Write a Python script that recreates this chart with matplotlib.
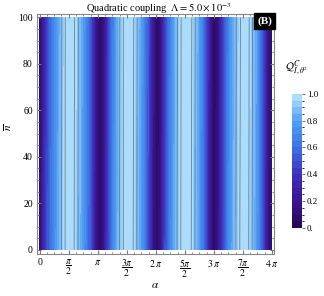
import numpy as np
import matplotlib
matplotlib.use("Agg")
import matplotlib.pyplot as plt
from matplotlib.colors import LinearSegmentedColormap

plt.rcParams['font.family'] = ['Liberation Serif', 'DejaVu Serif']
plt.rcParams['mathtext.fontset'] = 'stix'

# alpha sample positions, in units of pi
alpha_pi = [0.00, 0.07, 0.14, 0.21, 0.28, 0.35, 0.40, 0.45, 0.50, 0.57, 0.63, 0.70, 0.77, 0.84, 0.91, 0.97,
            1.04, 1.11, 1.18, 1.25, 1.32, 1.38, 1.44, 1.52, 1.60, 1.66, 1.73, 1.80, 1.87, 1.94,
            2.00, 2.07, 2.14, 2.21, 2.28, 2.34, 2.40, 2.46, 2.52, 2.60, 2.66, 2.73, 2.80, 2.87, 2.94,
            3.00, 3.07, 3.14, 3.21, 3.28, 3.35, 3.41, 3.47, 3.53, 3.60, 3.66, 3.73, 3.80, 3.87, 3.94, 4.00]
nbar_rows = [0, 100]

# Q values read along alpha at nbar = 0 and nbar = 100
q_bottom = [0.08, 0.30, 0.50, 0.64, 0.75, 0.86, 0.94, 0.98, 1.00, 0.99, 0.94, 0.84, 0.72, 0.58, 0.40, 0.15,
            0.06, 0.20, 0.45, 0.65, 0.80, 0.91, 0.97, 1.00, 0.98, 0.92, 0.80, 0.66, 0.48, 0.22,
            0.07, 0.12, 0.40, 0.60, 0.74, 0.86, 0.95, 0.99, 1.00, 0.98, 0.92, 0.80, 0.64, 0.45, 0.18,
            0.06, 0.15, 0.40, 0.60, 0.75, 0.86, 0.94, 0.99, 1.00, 0.97, 0.90, 0.78, 0.60, 0.38, 0.14, 0.06]
q_top = [0.08, 0.28, 0.48, 0.62, 0.74, 0.85, 0.93, 0.98, 1.00, 0.99, 0.95, 0.85, 0.74, 0.60, 0.42, 0.16,
         0.06, 0.17, 0.42, 0.62, 0.78, 0.90, 0.97, 1.00, 0.99, 0.93, 0.82, 0.68, 0.50, 0.24,
         0.07, 0.10, 0.36, 0.57, 0.72, 0.85, 0.94, 0.99, 1.00, 0.99, 0.93, 0.82, 0.66, 0.47, 0.19,
         0.06, 0.13, 0.37, 0.57, 0.73, 0.85, 0.93, 0.98, 1.00, 0.98, 0.91, 0.80, 0.62, 0.40, 0.15, 0.06]

xtick_pos = [0, 0.5, 1, 1.5, 2, 2.5, 3, 3.5, 4]
xtick_lab = ['0', r'$\dfrac{\pi}{2}$', r'$\pi$', r'$\dfrac{3\pi}{2}$', r'$2\,\pi$',
             r'$\dfrac{5\pi}{2}$', r'$3\,\pi$', r'$\dfrac{7\pi}{2}$', r'$4\,\pi$']

cmap = LinearSegmentedColormap.from_list('deepsea', [
    (0.0, '#25084f'), (0.2, '#3a1590'), (0.4, '#4030bd'), (0.6, '#3b72e2'),
    (0.8, '#52a0f3'), (0.92, '#8fcaf9'), (1.0, '#b6e3fd')])

fig = plt.figure(figsize=(3.24, 2.96), dpi=100)
ax = fig.add_axes([0.114, 0.142, 0.731, 0.811])

A = np.array(alpha_pi) * np.pi
Z = np.array([q_bottom, q_top])
levels = np.linspace(0, 1, 21)
cf = ax.contourf(A, nbar_rows, Z, levels=levels, cmap=cmap, vmin=0, vmax=1)
ax.contour(A, nbar_rows, Z, levels=[0.9, 0.97], colors='#4a5a6a', linewidths=0.6, alpha=0.7)

ax.set_xlim(-0.15, 4 * np.pi + 0.1)
ax.set_ylim(-1.8, 101.5)
ax.set_xticks([p * np.pi for p in xtick_pos])
ax.set_xticklabels(xtick_lab, fontsize=7)
ax.set_xticks(np.arange(0, 4 * np.pi + 0.01, np.pi / 8), minor=True)
ax.set_yticks([0, 20, 40, 60, 80, 100])
ax.set_yticks(np.arange(0, 101, 5), minor=True)
ax.tick_params(labelsize=7, direction='in', top=True, right=True, which='both',
               color='#777777', length=3, pad=3)
ax.tick_params(which='minor', length=1.5)
for s in ax.spines.values():
    s.set_color('#888888')
    s.set_linewidth(0.8)

fig.text(0.48, 0.02, r'$\alpha$', fontsize=8, ha='center', va='bottom')
fig.text(0.025, 0.57, r'$\overline{n}$', fontsize=8, ha='center', va='center', rotation=90)
fig.text(0.49, 0.997, r'Quadratic coupling  $\Lambda = 5.0 \times 10^{-3}$', fontsize=7.5,
         ha='center', va='top')
ax.text(0.992, 0.99, '(B)', transform=ax.transAxes, ha='right', va='top', color='white',
        fontsize=8, fontweight='bold',
        bbox=dict(facecolor='black', edgecolor='black', pad=2.5))

cax = fig.add_axes([0.901, 0.23, 0.031, 0.453])
cb = fig.colorbar(cf, cax=cax, ticks=[0, 0.2, 0.4, 0.6, 0.8, 1.0])
cb.ax.set_yticklabels(['0.', '0.2', '0.4', '0.6', '0.8', '1.0'])
cb.ax.set_yticks(np.arange(0, 1.01, 0.05), minor=True)
cb.ax.tick_params(labelsize=6.5, direction='out', color='#777777', length=2.5, pad=1)
cb.ax.tick_params(which='minor', length=1.5)
cb.outline.set_visible(False)
fig.text(0.915, 0.76, r'$\mathcal{Q}^{C}_{I,\theta^2}$', fontsize=8, ha='center')

fig.savefig('out.png', dpi=100)
